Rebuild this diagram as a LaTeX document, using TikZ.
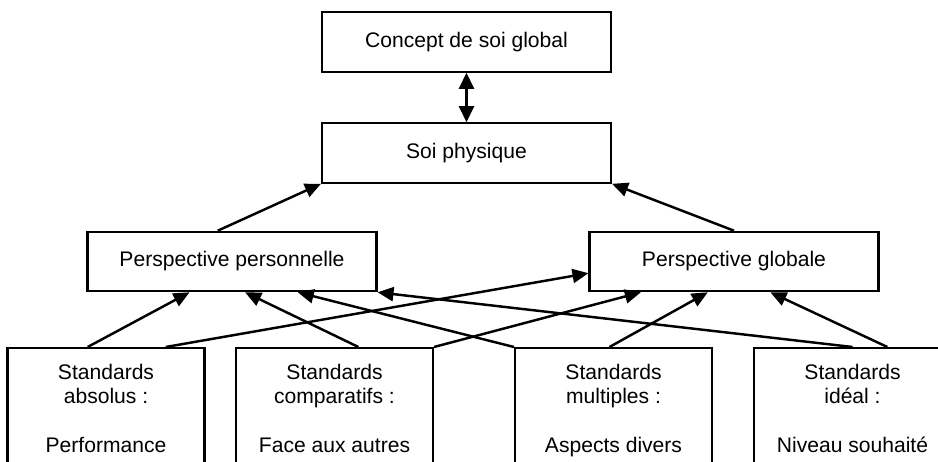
\documentclass[tikz,border=0pt]{standalone}
\usepackage{fontspec}
\setmainfont{Liberation Sans}
\usepackage{tikz}
\usetikzlibrary{positioning,arrows.meta,calc}
\tikzstyle{box}=[rectangle, draw=black, line width=1.2pt, text centered,
font=\fontsize{12}{13.9}\selectfont]
\tikzstyle{wide}=[box, minimum width=5.78cm, minimum height=1.19cm]
\tikzstyle{standard}=[box, anchor=north, align=center, minimum width=3.94cm, inner ysep=0.32cm]
\tikzstyle{link}=[line width=1.4pt, -{Triangle[length=0.32cm,width=0.28cm]}]

\begin{document}
\begin{tikzpicture}[x=0.02cm, y=-0.02cm]
            \useasboundingbox (0,0) rectangle (938,462);
            \clip (0,0) rectangle (938,462);
            \node (1)[wide] at (466.5,42) {Concept de soi global};
            \node (2)[wide] at (466.5,153) {Soi physique};
            \node (3)[wide] at (232,261.5) {Perspective personnelle};
            \node (4)[wide] at (734,261.5) {Perspective globale};
            \node (5)[standard] at (106,347) {Standards\\absolus :\\~\\Performance\\~};
            \node (6)[standard] at (334.5,347) {Standards\\comparatifs :\\~\\Face aux autres\\~};
            \node (7)[standard] at (613.5,347) {Standards\\multiples :\\~\\Aspects divers\\~};
            \node (8)[standard] at (852.5,347) {Standards\\idéal :\\~\\Niveau souhaité\\~};
            % liens
            \draw[line width=1.4pt, {Triangle[length=0.32cm,width=0.3cm]}-{Triangle[length=0.32cm,width=0.3cm]}] (1.south) -- (2.north);
            \draw[link] ($(3.north west)!0.451!(3.north east)$) -- (2.south west);
            \draw[link] (4.north) -- (2.south east);
            \draw[link] ($(5.north west)!0.408!(5.north east)$) -- ($(3.south west)!0.354!(3.south east)$);
            \draw[link] ($(5.north west)!0.80!(5.north east)$) -- ($(4.north west)!0.69!(4.south west)$);
            \draw[link] ($(6.north west)!0.62!(6.north east)$) -- ($(3.south west)!0.545!(3.south east)$);
            \draw[link] (6.north east) -- ($(4.south west)!0.18!(4.south east)$);
            \draw[link] (7.north west) -- ($(3.south west)!0.726!(3.south east)$);
            \draw[link] ($(7.north west)!0.48!(7.north east)$) -- ($(4.south west)!0.41!(4.south east)$);
            \draw[link] (8.north) -- (3.south east);
            \draw[link] ($(8.north west)!0.675!(8.north east)$) -- ($(4.south west)!0.625!(4.south east)$);
        \end{tikzpicture}
\end{document}
